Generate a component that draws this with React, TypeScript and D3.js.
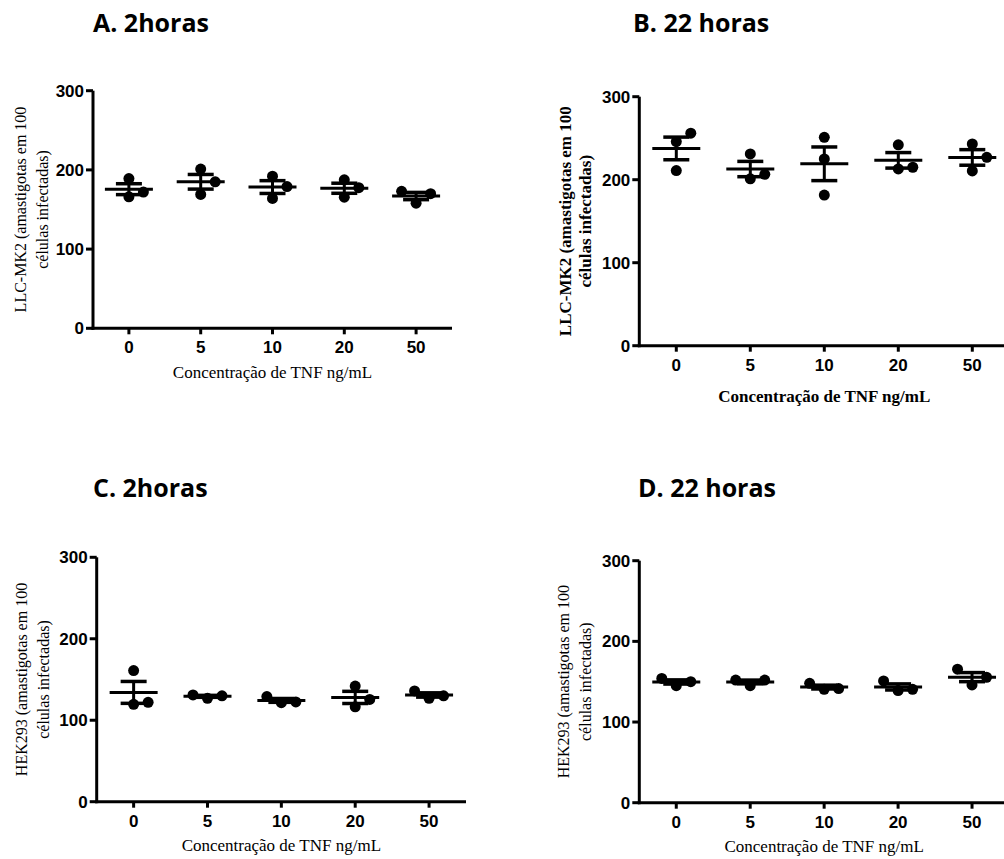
import React from "react";
import * as d3 from "d3";

// TNF concentrations (ng/mL)
const categories = ["0", "5", "10", "20", "50"];
const yTicks = [0, 100, 200, 300];

// amastigotas em 100 células infectadas, three replicates per concentration
const llcmk2_2h = [
  [189, 166, 172],
  [201, 169, 185],
  [192, 164, 179],
  [187.5, 165.5, 177.5],
  [173, 158, 170],
];
const llcmk2_22h = [
  [256, 246, 211],
  [231, 201, 206.5],
  [251, 225, 181.5],
  [242, 213, 215],
  [243, 227, 210.5],
];
const hek293_2h = [
  [161, 119.5, 122],
  [131, 127, 130],
  [129, 121.5, 122.5],
  [142, 116.5, 125.5],
  [136, 127, 130],
];
const hek293_22h = [
  [154, 145, 150],
  [152, 145, 152],
  [148, 140.5, 141.5],
  [151, 139, 140.5],
  [165.5, 146, 155.5],
];

const xTitle = "Concentração de TNF ng/mL";

const panels = [
  {
    title: "A. 2horas", titleX: 93, titleY: 32,
    yLabel: ["LLC-MK2 (amastigotas em 100", "células infectadas)"],
    bold: false, data: llcmk2_2h,
    x0: 93, x1: 452, top: 90.7, bottom: 328.3, lab1: 73, lab2: 50.5, xtDy: 50,
  },
  {
    title: "B. 22 horas", titleX: 633, titleY: 32,
    yLabel: ["LLC-MK2 (amastigotas em 100", "células infectadas)"],
    bold: true, data: llcmk2_22h,
    x0: 639.3, x1: 1009.3, top: 96.7, bottom: 345.7, lab1: 74, lab2: 54, xtDy: 56,
  },
  {
    title: "C. 2horas", titleX: 93, titleY: 497,
    yLabel: ["HEK293 (amastigotas em 100", "células infectadas)"],
    bold: false, data: hek293_2h,
    x0: 96.7, x1: 466, top: 557.3, bottom: 801.7, lab1: 75.5, lab2: 53.5, xtDy: 49,
  },
  {
    title: "D. 22 horas", titleX: 638, titleY: 497,
    yLabel: ["HEK293 (amastigotas em 100", "células infectadas)"],
    bold: false, data: hek293_22h,
    x0: 639.3, x1: 1009, top: 560.7, bottom: 802.7, lab1: 76, lab2: 53.5, xtDy: 49,
  },
];

const serif = "'Liberation Serif', 'Times New Roman', Times, serif";
const sans = "'Liberation Sans', Arial, Helvetica, sans-serif";

// spread overlapping points sideways, like a column scatter
function dodge(vals, y, step, minGap) {
  const order = d3.range(vals.length).sort((a, b) => vals[a] - vals[b]);
  const slots = [0, 1, -1, 2, -2];
  const placed = [];
  const off = new Array(vals.length);
  for (const i of order) {
    const py = y(vals[i]);
    const s = slots.find(s => !placed.some(p => p.s === s && Math.abs(p.y - py) < minGap));
    placed.push({ s, y: py });
    off[i] = s * step;
  }
  return off;
}

const Panel = ({ p }) => {
  const x = d3.scaleBand().domain(categories).range([p.x0, p.x1]);
  const y = d3.scaleLinear().domain([0, 300]).range([p.bottom, p.top]);
  const midY = (p.top + p.bottom) / 2;
  const midX = x("10") + x.bandwidth() / 2;
  const tickStyle = { fontFamily: sans, fontWeight: 700, fontSize: 17 };
  const serifStyle = { fontFamily: serif, fontWeight: p.bold ? 700 : 400 };

  return (
    <g>
      <text x={p.titleX} y={p.titleY} style={{ fontFamily: "'Open Sans', sans-serif", fontWeight: 700, fontSize: 25 }}>
        {p.title}
      </text>

      {/* y label */}
      {p.yLabel.map((line, i) => {
        const cx = p.x0 - (i === 0 ? p.lab1 : p.lab2);
        return (
          <text key={i} x={cx} y={midY} dy="0.35em" transform={`rotate(-90, ${cx}, ${midY})`}
            textAnchor="middle" style={{ ...serifStyle, fontSize: p.bold ? 17 : 16 }}>
            {line}
          </text>
        );
      })}

      {/* axes */}
      <line x1={p.x0} x2={p.x0} y1={p.top} y2={p.bottom + 1.5} stroke="#000" strokeWidth={3} />
      <line x1={p.x0 - 1.5} x2={p.x1} y1={p.bottom} y2={p.bottom} stroke="#000" strokeWidth={3} />
      {yTicks.map(t => (
        <g key={t}>
          <line x1={p.x0 - 7} x2={p.x0} y1={y(t)} y2={y(t)} stroke="#000" strokeWidth={3} />
          <text x={p.x0 - 9} y={y(t)} dy="0.36em" textAnchor="end" style={tickStyle}>{t}</text>
        </g>
      ))}
      {categories.map(c => {
        const cx = x(c) + x.bandwidth() / 2;
        return (
          <g key={c}>
            <line x1={cx} x2={cx} y1={p.bottom} y2={p.bottom + 6} stroke="#000" strokeWidth={3} />
            <text x={cx} y={p.bottom + 25} textAnchor="middle" style={tickStyle}>{c}</text>
          </g>
        );
      })}
      <text x={midX} y={p.bottom + p.xtDy} textAnchor="middle" style={{ ...serifStyle, fontSize: 17 }}>
        {xTitle}
      </text>

      {/* points, mean and SEM */}
      {categories.map((c, ci) => {
        const vals = p.data[ci];
        const cx = x(c) + x.bandwidth() / 2;
        const m = d3.mean(vals);
        const sem = d3.deviation(vals) / Math.sqrt(vals.length);
        const offs = dodge(vals, y, 14.5, 16.5);
        return (
          <g key={c}>
            {vals.map((v, i) => (
              <circle key={i} cx={cx + offs[i]} cy={y(v)} r={5.5} fill="#000" />
            ))}
            <line x1={cx - 24} x2={cx + 24} y1={y(m)} y2={y(m)} stroke="#000" strokeWidth={3} />
            <line x1={cx} x2={cx} y1={y(m + sem)} y2={y(m - sem)} stroke="#000" strokeWidth={3} />
            <line x1={cx - 13} x2={cx + 13} y1={y(m + sem)} y2={y(m + sem)} stroke="#000" strokeWidth={3.5} />
            <line x1={cx - 13} x2={cx + 13} y1={y(m - sem)} y2={y(m - sem)} stroke="#000" strokeWidth={3.5} />
          </g>
        );
      })}
    </g>
  );
};

export default function App() {
  return (
    <svg width={1004} height={859} style={{ position: "absolute", left: 0, top: 0, background: "#fff" }}>
      <rect width={1004} height={859} fill="#fff" />
      {panels.map((p, i) => <Panel key={i} p={p} />)}
    </svg>
  );
}
